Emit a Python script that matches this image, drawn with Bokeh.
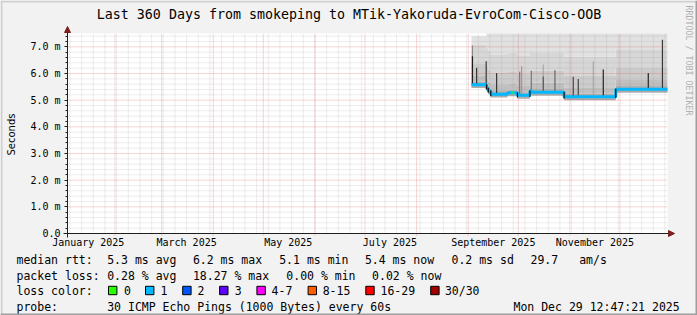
import pandas as pd
from bokeh.plotting import figure
from bokeh.models import (Range1d, FixedTicker, Label, Arrow, NormalHead,
                          BoxAnnotation, CustomJSTickFormatter)
from bokeh.embed import file_html
from bokeh.resources import INLINE
from bokeh.core.properties import value

# ---------------- data ----------------
title_text = "Last 360 Days from smokeping to MTik-Yakoruda-EvroCom-Cisco-OOB"
t_start = "2025-01-03 12:47:21"
t_end = "2025-12-29 12:47:21"

y_ticks = [0, 1, 2, 3, 4, 5, 6, 7]
y_tick_labels = ["0.0", "1.0 m", "2.0 m", "3.0 m", "4.0 m", "5.0 m", "6.0 m", "7.0 m"]

x_label_dates = ["2025-01-16", "2025-03-16", "2025-05-16", "2025-07-16",
                 "2025-09-16", "2025-11-16"]
x_label_text = ["January 2025", "March 2025", "May 2025", "July 2025",
                "September 2025", "November 2025"]
month_lines = ["2025-02-01", "2025-03-01", "2025-04-01", "2025-05-01", "2025-06-01",
               "2025-07-01", "2025-08-01", "2025-09-01", "2025-10-01", "2025-11-01",
               "2025-12-01"]

# median rtt (ms), step after each date
med_dates = ["2025-09-02 22:00", "2025-09-12 00:00", "2025-09-13 00:00",
             "2025-09-14 12:00", "2025-09-24 12:00", "2025-09-30 12:00",
             "2025-10-08 00:00", "2025-10-09 00:00", "2025-10-28 12:00",
             "2025-11-28 12:00", "2025-12-29 12:47"]
med_ms = [5.58, 5.45, 5.34, 5.22, 5.28, 5.18, 5.34, 5.30, 5.13, 5.41, 5.41]

# smoke levels (ms) at the same dates
smoke_lo = [5.46, 5.33, 5.22, 5.10, 5.15, 5.05, 5.21, 5.17, 5.00, 5.28, 5.28]
smoke_1 = [5.70, 5.57, 5.46, 5.34, 5.40, 5.30, 5.46, 5.42, 5.25, 5.53, 5.53]
smoke_2 = [5.93, 5.80, 5.69, 5.57, 5.63, 5.53, 5.69, 5.65, 5.48, 5.76, 5.76]
smoke_3 = [6.38, 6.25, 6.14, 6.02, 6.08, 5.98, 6.14, 6.10, 5.93, 6.21, 6.21]
smoke_4 = [7.08, 6.95, 6.84, 6.72, 6.78, 6.68, 6.84, 6.80, 6.63, 6.91, 6.91]
smoke_hi = [7.40, 7.50, 7.50, 7.50, 7.50, 7.50, 7.50, 7.50, 7.50, 7.50, 7.50]

# dark spikes in the smoke
spike_dates = ["2025-09-03 12:00", "2025-09-03 12:00", "2025-09-06 00:00",
               "2025-09-11 18:00", "2025-09-18 00:00", "2025-10-01 20:00",
               "2025-10-03 00:00", "2025-10-08 20:00", "2025-10-16 00:00",
               "2025-10-16 00:00", "2025-10-23 00:00", "2025-11-03 00:00",
               "2025-11-06 00:00", "2025-11-15 00:00", "2025-11-21 00:00",
               "2025-12-18 00:00", "2025-12-26 12:00"]
spike_base = [5.58, 5.58, 5.58, 5.58, 5.22, 5.18, 5.18, 5.30, 5.30, 5.30, 5.30,
              5.13, 5.13, 5.13, 5.13, 5.41, 5.41]
spike_top = [7.05, 6.65, 6.22, 6.46, 6.02, 6.07, 6.27, 6.10, 6.34, 5.89, 6.12,
             5.88, 5.79, 6.45, 6.15, 6.02, 7.27]
spike_shade = ["#8a8a8a", "#1a1a1a", "#333333", "#333333", "#333333", "#777777",
               "#9a9a9a", "#777777", "#a8a8a8", "#555555", "#666666", "#444444",
               "#444444", "#a8a8a8", "#222222", "#222222", "#333333"]

# step transitions (dark)
step_dates = ["2025-09-12 00:00", "2025-09-13 00:00", "2025-09-14 12:00",
              "2025-09-30 12:00", "2025-10-08 00:00", "2025-10-28 12:00",
              "2025-11-28 12:00"]
step_lo = [5.40, 5.28, 5.15, 5.10, 5.12, 5.05, 5.08]
step_hi = [5.60, 5.47, 5.36, 5.30, 5.36, 5.32, 5.43]

green_dates = ["2025-09-27 12:00", "2025-09-28 12:00"]
green_ms = [5.28, 5.28]

rtt_stats = ["5.3 ms avg", "6.2 ms max", "5.1 ms min", "5.4 ms now", "0.2 ms sd",
             "29.7", "am/s"]
loss_stats = ["0.28 % avg", "18.27 % max", "0.00 % min", "0.02 % now"]
loss_labels = ["0", "1", "2", "3", "4-7", "8-15", "16-29", "30/30"]
loss_colors = ["#26ff00", "#00b8ff", "#0059ff", "#5e00ff", "#ff00ff", "#ff5e00",
               "#ff0000", "#a10000"]
probe_text = "30 ICMP Echo Pings (1000 Bytes) every 60s"
stamp_text = "Mon Dec 29 12:47:21 2025"


# ---------------- helpers ----------------
def ms(d):
    return pd.Timestamp(d).value / 1e6


def msl(lst):
    return [ms(d) for d in lst]


W, H = 697, 315
T0, T1 = ms(t_start), ms(t_end)
YMAX = 7.5
FL, FR, FT, FB = 67, 667, 33, 233   # plot area in page pixels


def px2x(px):
    return T0 + (px - FL) / (FR - FL) * (T1 - T0)


def px2y(py):
    return (FB - py) / (FB - FT) * YMAX


# the frame covers the whole page; the chart area is [T0,T1] x [0,YMAX]
p = figure(width=W, height=H, output_backend="svg", toolbar_location=None,
           x_range=Range1d(px2x(0), px2x(W)), y_range=Range1d(px2y(H), px2y(0)),
           min_border=0, min_border_left=0, min_border_right=0,
           min_border_top=0, min_border_bottom=0)
p.background_fill_color = "#f2f2f2"
p.border_fill_color = "#f2f2f2"
p.outline_line_color = None

# canvas
p.quad(left=[T0], right=[T1], bottom=[0], top=[YMAX], fill_color="#ffffff",
       line_color=None)

# ---- smoke ----
mx = msl(med_dates)
bands = [(smoke_lo, med_ms, "#acacac"), (med_ms, smoke_1, "#b0b0b0"),
         (smoke_1, smoke_2, "#c0c0c0"), (smoke_2, smoke_3, "#cccccc"),
         (smoke_3, smoke_4, "#d7d7d7"), (smoke_4, smoke_hi, "#e1e1e1")]
for lo, hi, col in bands:
    p.varea_step(x=mx, y1=lo, y2=hi, step_mode="after", fill_color=col)

p.segment(x0=msl(spike_dates), y0=spike_base, x1=msl(spike_dates), y1=spike_top,
          line_color=spike_shade, line_width=1.2)

# ---- grid (drawn over the smoke, as rrdtool does) ----
minor_y = [i * 0.2 for i in range(38) if i % 5 != 0]
weeks = [w.value / 1e6 for w in pd.date_range("2025-01-05", "2025-12-28", freq="7D")]
p.segment(x0=weeks, x1=weeks, y0=[0] * len(weeks), y1=[YMAX] * len(weeks),
          line_color="#8f8f8f", line_alpha=0.32, line_dash="1 1", line_width=1)
p.segment(x0=[T0] * len(minor_y), x1=[T1] * len(minor_y), y0=minor_y, y1=minor_y,
          line_color="#8f8f8f", line_alpha=0.32, line_dash="1 1", line_width=1)
mlx = msl(month_lines)
p.segment(x0=mlx, x1=mlx, y0=[-0.08] * len(mlx), y1=[YMAX] * len(mlx),
          line_color="#de5050", line_alpha=0.48, line_dash="1 1", line_width=1)
p.segment(x0=[T0] * 7, x1=[T1] * 7, y0=y_ticks[1:], y1=y_ticks[1:],
          line_color="#de5050", line_alpha=0.48, line_dash="1 1", line_width=1)

# ---- median ----
p.step(x=mx, y=med_ms, mode="after", line_color="#00b8ff", line_width=3)
p.line(x=msl(green_dates), y=green_ms, line_color="#26ff00", line_width=3)
p.segment(x0=msl(step_dates), y0=step_lo, x1=msl(step_dates), y1=step_hi,
          line_color="#111111", line_width=1.2)

# ---- axes (fixed inside the page-sized frame) ----
p.xgrid.visible = False
p.ygrid.visible = False

yax = p.yaxis[0]
yax.fixed_location = T0
yax.bounds = (0, YMAX)
yax.ticker = FixedTicker(ticks=y_ticks, minor_ticks=[i * 0.2 for i in range(38)])
yax.formatter = CustomJSTickFormatter(args=dict(labels=y_tick_labels),
                                      code="return labels[Math.round(tick)];")
yax.axis_line_color = None
yax.major_tick_out = 3
yax.major_tick_in = 0
yax.minor_tick_out = 2
yax.minor_tick_in = 0
yax.major_tick_line_color = "#1f1f1f"
yax.minor_tick_line_color = "#1f1f1f"
yax.major_label_text_font = "DejaVu Sans Mono"
yax.major_label_text_font_size = "10px"
yax.major_label_text_color = "#000000"
yax.major_label_standoff = 4

xax = p.xaxis[0]
xax.fixed_location = 0
xax.bounds = (T0, T1)
xax.ticker = FixedTicker(ticks=msl(x_label_dates))
xax.formatter = CustomJSTickFormatter(
    args=dict(labels=x_label_text, tvals=msl(x_label_dates)),
    code="""let b = 0, d = Infinity;
for (let i = 0; i < tvals.length; i++) { const e = Math.abs(tvals[i] - tick); if (e < d) { d = e; b = i; } }
return labels[b];""")
xax.axis_line_color = None
xax.major_tick_line_color = None
xax.minor_tick_line_color = None
xax.major_tick_out = 0
xax.major_tick_in = 0
xax.minor_tick_out = 0
xax.minor_tick_in = 0
xax.major_label_standoff = 3
xax.major_label_text_font = "DejaVu Sans Mono"
xax.major_label_text_font_size = "10px"
xax.major_label_text_color = "#000000"

p.add_layout(Arrow(end=NormalHead(size=6, fill_color="#801f1f", line_color="#801f1f"),
                   x_start=px2x(63), y_start=0, x_end=px2x(674), y_end=0,
                   line_color="#1f1f1f", line_width=1))
p.add_layout(Arrow(end=NormalHead(size=6, fill_color="#801f1f", line_color="#801f1f"),
                   x_start=T0, y_start=px2y(237), x_end=T0, y_end=px2y(26),
                   line_color="#1f1f1f", line_width=1))


# ---- texts ----
def txt(s, px, py, size="11.5px", align="left", font="DejaVu Sans Mono",
        color="#000000", angle=0):
    p.add_layout(Label(x=px2x(px), y=px2y(py), text=s, text_font=font,
                       text_font_size=size, text_align=align, text_baseline="middle",
                       text_color=color, angle=angle, angle_units="deg"))


txt(title_text, 348.5, 14, size="13.3px", align="center")
txt("Seconds", 11, 134, size="10px", align="center", font="DejaVu Sans", angle=90)
txt("RRDTOOL / TOBI OETIKER", 688, 5, size="8.3px", align="left", color="#b0b0b0",
    angle=-90)

R1, R2, R3, R4 = 259, 275, 290, 306
txt("median rtt:", 16, R1)
for s, x in zip(rtt_stats, [106.7, 192.4, 278.7, 364.4, 451, 530, 578.7]):
    txt(s, x, R1)
txt("packet loss:", 16, R2)
for s, x in zip(loss_stats, [106.7, 192.4, 285.8, 371.6]):
    txt(s, x, R2)
txt("loss color:", 16, R3)
box_x = [108, 145, 182.2, 219.1, 256.4, 307.6, 365.3, 430.2]
lab_x = [123.6, 160, 196.9, 234.2, 271.1, 322.2, 380, 444.4]
for s, c, bx, lx in zip(loss_labels, loss_colors, box_x, lab_x):
    p.add_layout(BoxAnnotation(left=px2x(bx), right=px2x(bx + 8.4),
                               bottom=px2y(R3 + 4.2), top=px2y(R3 - 4.2),
                               fill_color=c, fill_alpha=1.0, line_color="#000000",
                               line_width=1, line_alpha=1.0))
    txt(s, lx, R3)
txt("probe:", 16, R4)
txt(probe_text, 106.7, R4)
txt(stamp_text, 513, R4)

# ---- border shading ----
for l, r, t, b, c in [(0, 2, 0, 315, "#cfcfcf"), (0, 697, 0, 2, "#cfcfcf"),
                      (695, 697, 0, 315, "#9e9e9e"), (0, 697, 313, 315, "#9e9e9e")]:
    p.add_layout(BoxAnnotation(left=px2x(l), right=px2x(r), top=px2y(t), bottom=px2y(b),
                               fill_color=c, fill_alpha=1.0, line_color=None))

open("out.html", "w").write(file_html(p, INLINE))
